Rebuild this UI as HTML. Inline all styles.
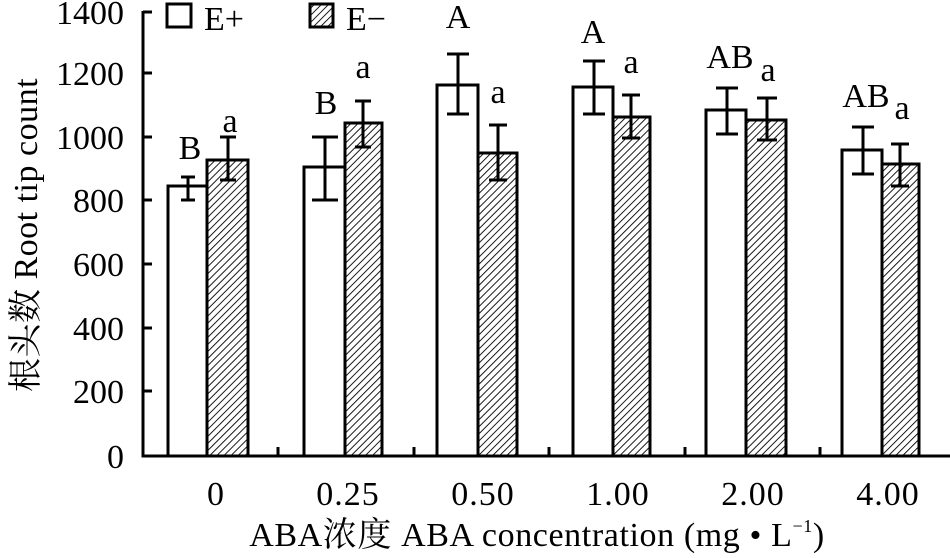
<!DOCTYPE html>
<html><head><meta charset="utf-8"><style>
html,body{margin:0;padding:0;background:#fff}
svg{display:block}
text{font-family:"Liberation Serif","Noto Serif CJK SC",serif;fill:#000}
</style></head><body>
<svg width="950" height="558" viewBox="0 0 950 558" xmlns="http://www.w3.org/2000/svg">
<defs>
<pattern id="h" width="5" height="5" patternUnits="userSpaceOnUse" patternTransform="rotate(45)">
<rect width="5" height="5" fill="#fff"/><line x1="0" y1="0" x2="0" y2="5" stroke="#000" stroke-width="1.8"/>
</pattern>
</defs>
<g stroke="#000" stroke-width="3" fill="none">
<line x1="143" y1="11" x2="143" y2="456"/>
<line x1="141.5" y1="456" x2="950" y2="456"/>
<line x1="143" y1="12" x2="152" y2="12"/>
<line x1="143" y1="73" x2="152" y2="73"/>
<line x1="143" y1="137" x2="152" y2="137"/>
<line x1="143" y1="200" x2="152" y2="200"/>
<line x1="143" y1="264" x2="152" y2="264"/>
<line x1="143" y1="328" x2="152" y2="328"/>
<line x1="143" y1="391" x2="152" y2="391"/>
<line x1="278" y1="447" x2="278" y2="456"/>
<line x1="414" y1="447" x2="414" y2="456"/>
<line x1="549" y1="447" x2="549" y2="456"/>
<line x1="685" y1="447" x2="685" y2="456"/>
<line x1="820" y1="447" x2="820" y2="456"/>
</g>
<g stroke="#000" stroke-width="3">
<rect x="168" y="186" width="39" height="270" fill="#fff"/>
<rect x="207" y="160" width="41" height="296" fill="url(#h)"/>
<rect x="304" y="167" width="41" height="289" fill="#fff"/>
<rect x="345" y="123" width="37" height="333" fill="url(#h)"/>
<rect x="437" y="85" width="41" height="371" fill="#fff"/>
<rect x="478" y="153" width="39" height="303" fill="url(#h)"/>
<rect x="573" y="87" width="40" height="369" fill="#fff"/>
<rect x="613" y="117" width="37" height="339" fill="url(#h)"/>
<rect x="706" y="110" width="40" height="346" fill="#fff"/>
<rect x="746" y="120" width="40" height="336" fill="url(#h)"/>
<rect x="842" y="150" width="40" height="306" fill="#fff"/>
<rect x="882" y="164" width="37" height="292" fill="url(#h)"/>
</g>
<g stroke="#000" stroke-width="3" fill="none">
<path d="M188 177V200M181 177H195M181 200H195"/>
<path d="M228 137V180M220 137H236M220 180H236"/>
<path d="M325 137V200M312 137H338M312 200H338"/>
<path d="M363 101V147M355 101H371M355 147H371"/>
<path d="M458 54V114M447 54H469M447 114H469"/>
<path d="M498 125V180M489 125H507M489 180H507"/>
<path d="M594 61V114M583 61H605M583 114H605"/>
<path d="M631 95V138M622 95H640M622 138H640"/>
<path d="M727 88V134M716 88H738M716 134H738"/>
<path d="M767 98V140M757 98H777M757 140H777"/>
<path d="M863 127V174M852 127H874M852 174H874"/>
<path d="M900 144V186M891 144H909M891 186H909"/>
</g>
<g font-size="34" text-anchor="middle">
<text x="190" y="159">B</text><text x="230" y="132">a</text>
<text x="326" y="114">B</text><text x="363" y="78">a</text>
<text x="458" y="28">A</text><text x="498" y="103">a</text>
<text x="593" y="43">A</text><text x="631" y="73">a</text>
<text x="730" y="68">AB</text><text x="768" y="81">a</text>
<text x="866" y="107">AB</text><text x="902" y="119">a</text>
</g>
<g font-size="34" text-anchor="end">
<text x="124" y="24">1400</text><text x="124" y="85">1200</text><text x="124" y="149">1000</text>
<text x="124" y="212">800</text><text x="124" y="276">600</text><text x="124" y="340">400</text>
<text x="124" y="403">200</text><text x="124" y="468">0</text>
</g>
<g font-size="34" text-anchor="middle" letter-spacing="1">
<text x="216" y="505">0</text><text x="348" y="505">0.25</text><text x="483" y="505">0.50</text>
<text x="618" y="505">1.00</text><text x="753" y="505">2.00</text><text x="888" y="505">4.00</text>
</g>
<rect x="167" y="4" width="24" height="23" fill="#fff" stroke="#000" stroke-width="3"/>
<text x="204" y="30" font-size="34">E+</text>
<rect x="310" y="4" width="23" height="23" fill="url(#h)" stroke="#000" stroke-width="3"/>
<text x="346" y="30" font-size="34">E−</text>
<text x="537" y="546" font-size="34" text-anchor="middle" letter-spacing="0.6">ABA浓度 ABA concentration (mg • L<tspan font-size="18" dy="-14">−1</tspan><tspan dy="14">)</tspan></text>
<text transform="translate(37,235) rotate(-90)" font-size="34" text-anchor="middle" letter-spacing="0.5">根头数 Root tip count</text>
</svg>
</body></html>
